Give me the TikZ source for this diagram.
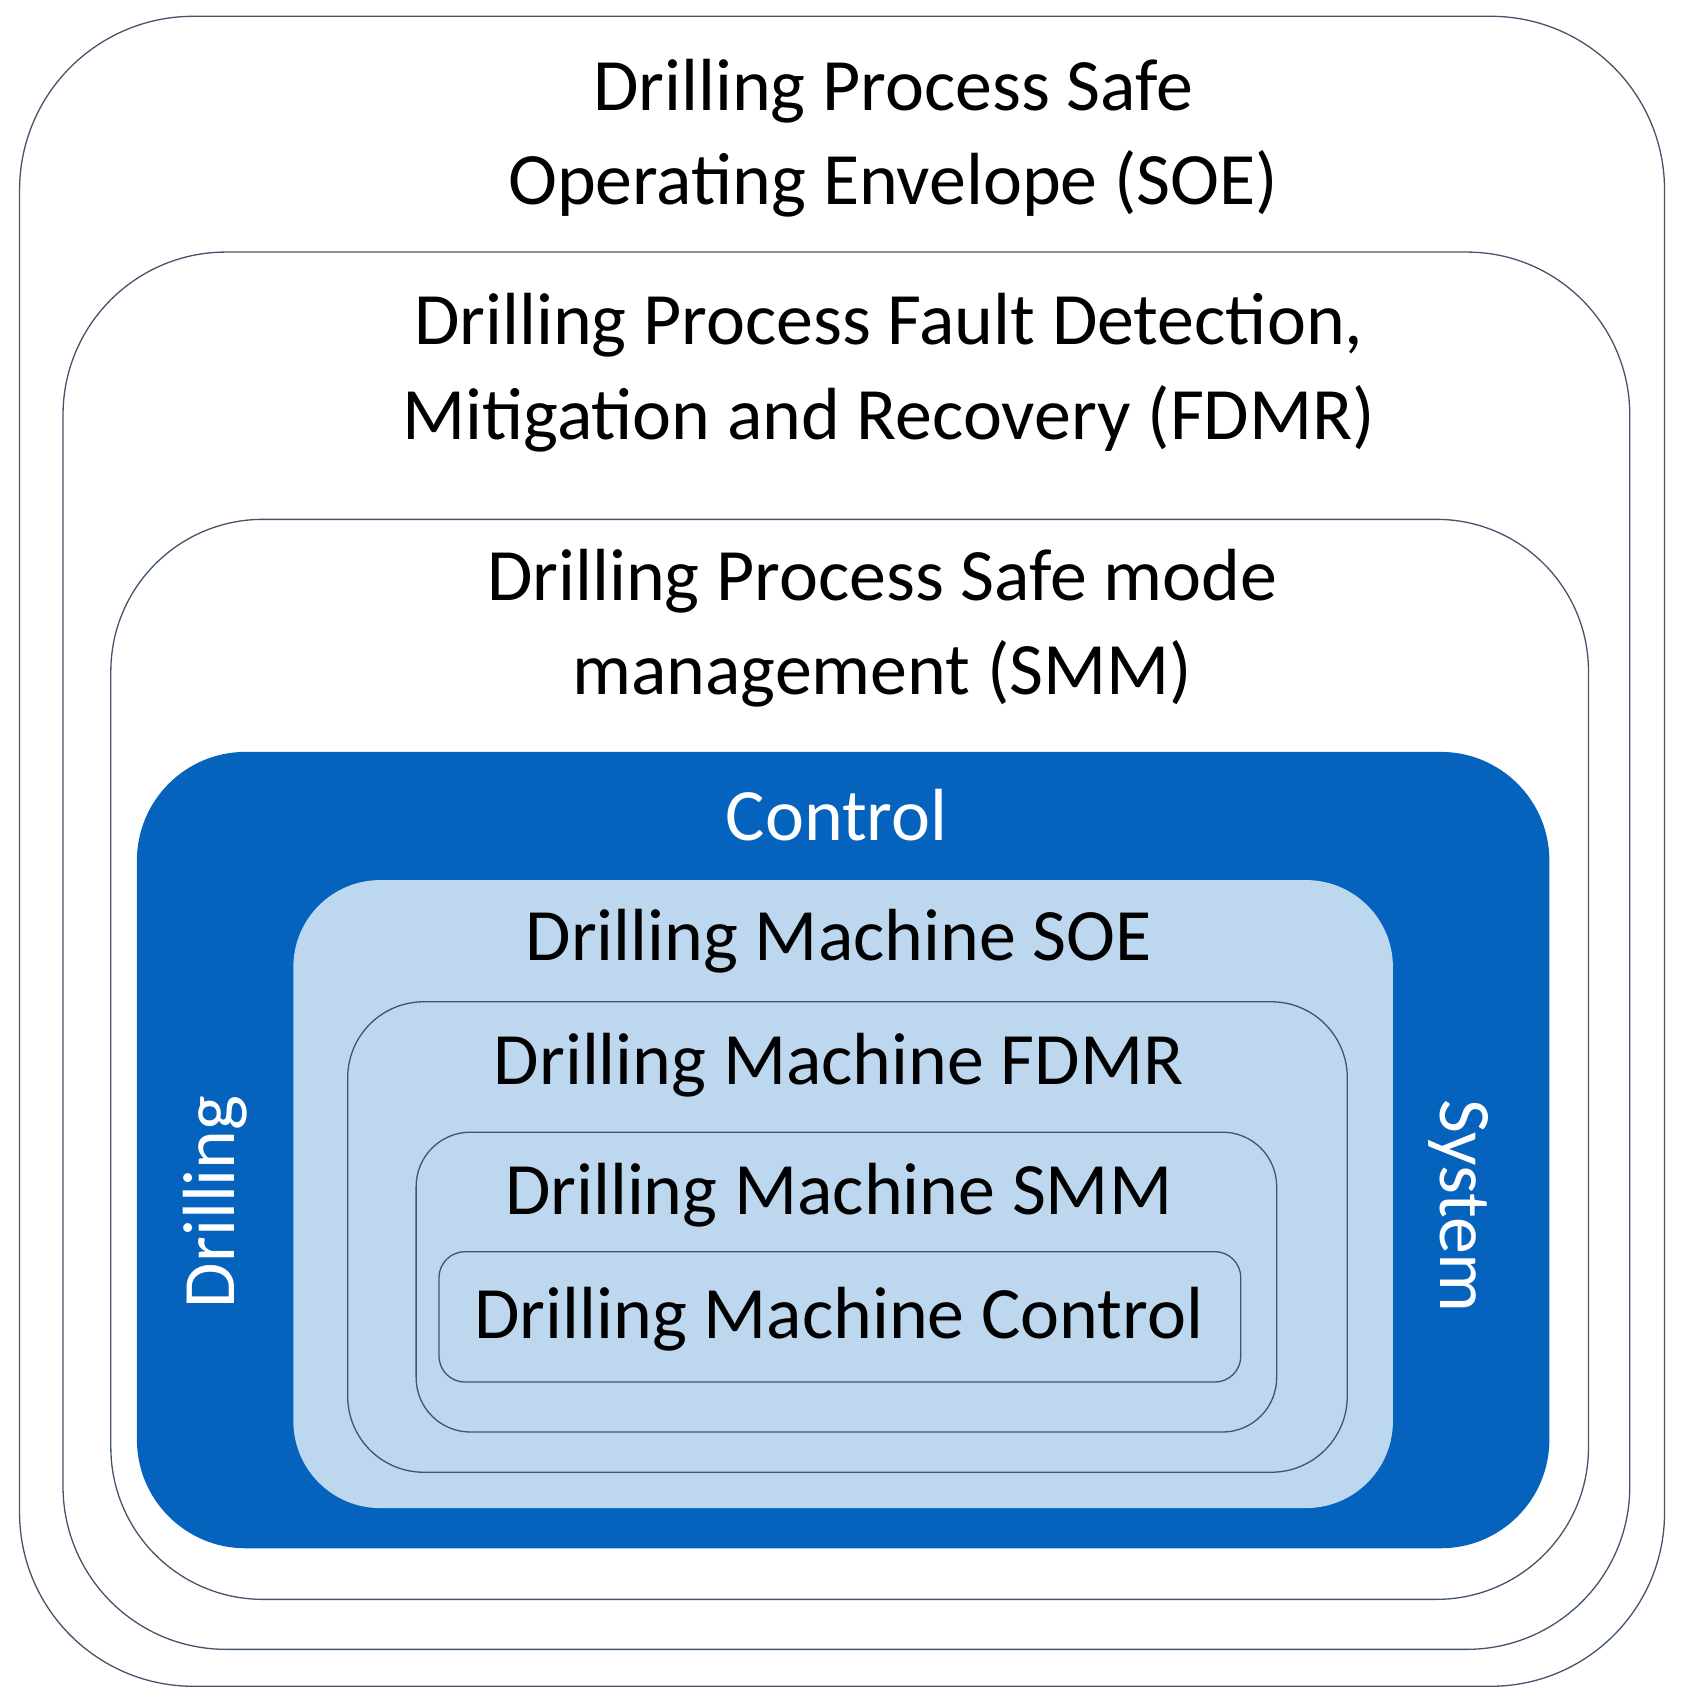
\documentclass[tikz,border=0pt]{standalone}
\usepackage{fontspec}
\setmainfont{Carlito}
\definecolor{edge}{RGB}{68,84,106}
\definecolor{dblue}{RGB}{5,99,190}
\definecolor{lblue}{RGB}{189,215,238}
\begin{document}
\begin{tikzpicture}[x=0.5pt,y=-0.5pt,
  box/.style={draw=edge,line width=0.6pt},
  lbl/.style={font=\fontsize{34}{43.5}\selectfont,align=center,inner sep=0pt}]
\useasboundingbox (0,0) rectangle (1552,1572);
\draw[box,rounded corners=80pt] (18,15) rectangle (1532,1552);
\draw[box,rounded corners=75pt] (58,232) rectangle (1500,1518);
\draw[box,rounded corners=70pt] (102,478) rectangle (1462,1472);
\fill[dblue,rounded corners=50pt] (126,692) rectangle (1426,1425);
\fill[lblue,rounded corners=40pt] (270,810) rectangle (1282,1388);
\draw[box,rounded corners=35pt] (320,922) rectangle (1240,1355);
\draw[box,rounded corners=25pt] (383,1042) rectangle (1175,1318);
\draw[box,rounded corners=12pt] (404,1152) rectangle (1142,1272);
\node[lbl] (soe) at (822,127) {Drilling Process Safe\\Operating Envelope (SOE)};
\node[lbl] (fdmr) at (818,343) {Drilling Process Fault Detection,\\Mitigation and Recovery (FDMR)};
\node[lbl] (smm) at (812,578) {Drilling Process Safe mode\\management (SMM)};
\node[lbl,text=white] (ctl) at (770,750) {Control};
\node[lbl] (msoe) at (772,866) {Drilling Machine SOE};
\node[lbl] (mfdmr) at (772,980) {Drilling Machine FDMR};
\node[lbl] (msmm) at (772,1100) {Drilling Machine SMM};
\node[lbl] (mctl) at (772,1214) {Drilling Machine Control};
\node[lbl,text=white,rotate=90] (dr) at (198,1106) {Drilling};
\node[lbl,text=white,rotate=-90] (sys) at (1342,1110) {System};
\end{tikzpicture}
\end{document}
